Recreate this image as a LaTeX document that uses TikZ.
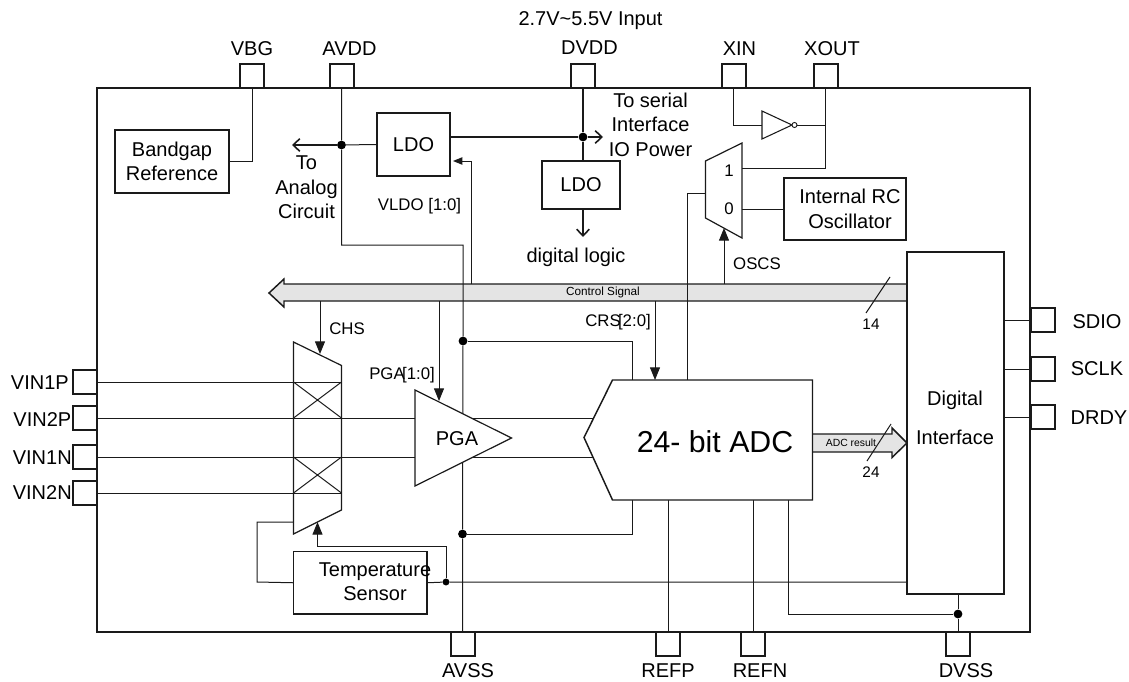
\documentclass[tikz,border=0pt]{standalone}
\usepackage{fontspec}
\setmainfont{Liberation Sans}
\usetikzlibrary{arrows.meta}
\definecolor{busgray}{HTML}{E4E4E4}
\definecolor{ink}{HTML}{1A1A1A}
\newcommand{\fsA}{\fontsize{15}{18.4}\selectfont}
\newcommand{\fsB}{\fontsize{12.6}{15}\selectfont}
\newcommand{\fsC}{\fontsize{11.5}{14}\selectfont}
\tikzset{
  wire/.style={draw=ink,line width=.75pt},
  heavy/.style={draw=ink,line width=1.5pt},
  wh/.style 2 args={minimum width=#1*.75pt,minimum height=#2*.75pt},
  pinbox/.style={draw=ink,line width=1.5pt,wh={24}{24},inner sep=0pt},
  blockbox/.style={draw=ink,line width=.9pt,fill=white,inner sep=0pt,align=center,font=\fsA},
  dot/.style={circle,fill=black,inner sep=0pt,minimum size=6.6pt},
  lab/.style={inner sep=0pt,font=\fsA,align=center},
  labs/.style={inner sep=0pt,font=\fsB,align=center},
  labn/.style={inner sep=0pt,font=\fsC},
  barb/.style={-{Straight Barb[length=5pt,width=9.5pt,line width=1.2pt]}},
  solidtip/.style={-{Triangle[length=9.5pt,width=7.5pt]}},
  smalltip/.style={-{Triangle[length=7pt,width=5.5pt]}},
}
\begin{document}
\begin{tikzpicture}[x=.75pt,y=-.75pt]
\useasboundingbox (0,0) rectangle (1129,682);
% chip outline
\node[draw=ink,line width=1.5pt,inner sep=0pt,wh={933}{544}] (chip) at (563.5,360) {};
% pins
\node[pinbox] (pVBG)  at (252,76) {};
\node[pinbox] (pAVDD) at (341.5,76) {};
\node[pinbox] (pDVDD) at (583,76) {};
\node[pinbox] (pXIN)  at (733.5,76) {};
\node[pinbox] (pXOUT) at (825.5,76) {};
\node[pinbox] (pSDIO) at (1042.5,320) {};
\node[pinbox] (pSCLK) at (1042.5,369) {};
\node[pinbox] (pDRDY) at (1042.5,417) {};
\node[pinbox] (pV1P) at (85,382) {};
\node[pinbox] (pV2P) at (85,418) {};
\node[pinbox] (pV1N) at (85,457) {};
\node[pinbox] (pV2N) at (85,493) {};
\node[pinbox] (pAVSS) at (462.5,644) {};
\node[pinbox] (pREFP) at (668,644) {};
\node[pinbox] (pREFN) at (753,644) {};
\node[pinbox] (pDVSS) at (958,644) {};
% pin labels
\node[lab] (tVBG)  at (252,49) {VBG};
\node[lab] (tAVDD) at (349.5,49) {AVDD};
\node[lab] (tIn)   at (590.5,21) {2.7V\textasciitilde 5.5V Input};
\node[lab] (tDVDD) at (589.5,48) {DVDD};
\node[lab] (tXIN)  at (739.5,49) {XIN};
\node[lab] (tXOUT) at (832,49) {XOUT};
\node[lab] (tSDIO) at (1097,322) {SDIO};
\node[lab] (tSCLK) at (1097,369) {SCLK};
\node[lab] (tDRDY) at (1099,418) {DRDY};
\node[lab,anchor=east] (tV1P) at (69,383) {VIN1P};
\node[lab,anchor=east] (tV2P) at (71.5,420) {VIN2P};
\node[lab,anchor=east] (tV1N) at (72,458) {VIN1N};
\node[lab,anchor=east] (tV2N) at (72,493) {VIN2N};
\node[lab] (tAVSS) at (468,671) {AVSS};
\node[lab] (tREFP) at (668,671) {REFP};
\node[lab] (tREFN) at (760,671) {REFN};
\node[lab] (tDVSS) at (966,671) {DVSS};
% named points
\node[dot] (dA) at (341.5,145) {};
\node[dot] (dD) at (583,137) {};
\node[dot] (dT) at (463,341) {};
\node[dot] (dB) at (462.5,534) {};
\node[dot,minimum size=5.2pt] (dS) at (446,582) {};
\node[dot] (dV) at (958,614) {};
\coordinate (aL) at (292,145);
\coordinate (aR) at (603,137);
\coordinate (aD) at (583,237);
\coordinate (busVL) at (471,284);
\coordinate (tipVL) at (453,161);
\coordinate (cnrA) at (341.5,245);
\coordinate (cnrB) at (463,245);
\coordinate (busOS) at (724,284);
\coordinate (tipOS) at (724,228);
\coordinate (busCH) at (320,301);
\coordinate (tipCH) at (320,354);
\coordinate (busPG) at (439,301);
\coordinate (tipPG) at (439,401);
\coordinate (busCR) at (655,301);
\coordinate (tipCR) at (655,380);
\coordinate (adcT1) at (632.5,380);
\coordinate (adcB1) at (632.5,500);
\coordinate (adcT2) at (687,380);
\coordinate (adcBR) at (788,500);
\coordinate (adcBP) at (668,500);
\coordinate (adcBN) at (753,500);
\coordinate (muxI) at (705.5,193);
\coordinate (mux1) at (742,168);
\coordinate (mux0) at (742,209);
\coordinate (invI) at (762,125);
\coordinate (invO) at (797,125);
\coordinate (sel) at (317.5,522);
\coordinate (selC) at (317.5,546.5);
\coordinate (fbk) at (293.5,522);
\coordinate (fbkC) at (257,582);
\coordinate (ifL) at (907,582);
\coordinate (mxR) at (341.5,0);
\coordinate (adcL1) at (600,418);
\coordinate (adcL2) at (600,457);
% blocks
\node[blockbox,wh={114}{63}] (bg) at (172,161.5) {Bandgap\\Reference};
\node[blockbox,wh={73}{63}] (ldoA) at (413.5,144.5) {LDO};
\node[blockbox,wh={78}{48}] (ldoB) at (581,185) {LDO};
\node[blockbox,wh={122}{62}] (rc) at (845,209) {};
\node[lab] (rcT) at (850,209) {Internal RC\\Oscillator\hspace{6pt}};
% control bus
\path[draw=ink,line width=1.1pt,fill=busgray] (907,284) -- (284,284) -- (284,279) -- (269,293) -- (284,307) -- (284,301) -- (907,301);
\node[inner sep=0pt,font=\fontsize{8.8}{10}\selectfont] (busT) at (603,292.5) {Control Signal};
% adc result bus
\path[draw=ink,line width=1.1pt,fill=busgray] (813,434) -- (892,434) -- (892,428) -- (907,443) -- (892,457.5) -- (892,452) -- (813,452);
\node[inner sep=0pt,font=\fontsize{7.8}{9}\selectfont] (adcT) at (851,443) {ADC result};
% digital interface and temperature
\node[blockbox,wh={97}{342}] (dif) at (955.5,423) {};
\node[blockbox,wh={133.5}{62.5}] (temp) at (360.25,582.75) {};
% wires
\draw[wire] (pVBG.south) |- (bg.east);
\draw[wire] (pAVDD.south) -- (dA) -- (cnrA) -- (cnrB) -- (dT) -- (dB) -- (pAVSS.north);
\draw[wire] (dA) -- (ldoA.west);
\draw[heavy,barb] (dA) -- (aL);
\draw[heavy,barb] (ldoA.east |- dD) -- (dD) -- (aR);
\draw[heavy] (pDVDD.south) -- (dD) -- (dD |- ldoB.north);
\draw[wire,line width=1.1pt,barb] (dD |- ldoB.south) -- (aD);
\draw[wire,smalltip] (busVL) |- (tipVL);
\draw[wire] (pXIN.south) |- (invI);
\draw[wire] (pXOUT.south) |- (invO);
\draw[wire] (pXOUT.south) |- (mux1);
\draw[wire] (mux0) -- (rc.west |- mux0);
\draw[wire] (muxI) -| (adcT2);
\draw[wire,solidtip] (busOS) -- (tipOS);
\draw[wire,solidtip] (busCH) -- (tipCH);
\draw[wire,solidtip] (busCR) -- (tipCR);
\draw[wire] (dT) -| (adcT1);
\draw[wire] (dB) -| (adcB1);
\draw[wire] (pV1P.east) -- (pV1P.east -| mxR);
\draw[wire] (pV2P.east) -- (adcL1);
\draw[wire] (pV1N.east) -- (adcL2);
\draw[wire] (pV2N.east) -- (pV2N.east -| mxR);
\draw[wire] (pSDIO.west) -- (dif.east |- pSDIO.west);
\draw[wire] (pSCLK.west) -- (dif.east |- pSCLK.west);
\draw[wire] (pDRDY.west) -- (dif.east |- pDRDY.west);
\draw[wire] (dif.south -| dV) -- (dV) -- (pDVSS.north);
\draw[wire] (adcBR) |- (dV);
\draw[wire] (adcBP) -- (pREFP.north);
\draw[wire] (adcBN) -- (pREFN.north);
\draw[wire] (temp.east) -- (dS) -- (ifL);
\draw[wire,solidtip] (dS) |- (selC) -- (sel);
\draw[wire] (fbk) -| (fbkC) -- (temp.west);
% channel mux
\path[draw=ink,line width=.9pt] (293.5,342) -- (341.5,365.5) -- (341.5,510) -- (293.5,534) -- cycle;
\draw[wire] (293.5,382) -- (341.5,418) (341.5,382) -- (293.5,418);
\draw[wire] (293.5,457) -- (341.5,493) (341.5,457) -- (293.5,493);
% PGA
\path[draw=ink,line width=.9pt,fill=white] (415,390) -- (511.5,438) -- (415,486) -- cycle;
\draw[wire,solidtip] (busPG) -- (tipPG);
\node[inner sep=0pt,font=\fsA] (pgaT) at (457,439) {PGA};
% ADC
\path[draw=ink,line width=1.1pt,fill=white] (612.5,380) -- (812.5,380) -- (812.5,500) -- (612.5,500) -- (584,437.5) -- cycle;
\node[inner sep=0pt,font=\fontsize{22.7}{28}\selectfont] (adcN) at (715,442) {24- bit ADC};
% clock mux
\path[draw=ink,line width=.9pt] (705.5,161) -- (742,143) -- (742,238) -- (705.5,218) -- cycle;
\node[labs] (m1) at (729,171) {1};
\node[labs] (m0) at (729,209) {0};
% inverter
\path[draw=ink,line width=.8pt,fill=white] (762,111) -- (792,125) -- (762,139) -- cycle;
\node[circle,draw=ink,line width=.7pt,fill=white,inner sep=0pt,minimum size=3.8pt] (bub) at (794.5,125) {};
% wire labels
\node[lab] (tA) at (306.5,187.5) {To\\Analog\\Circuit};
\node[lab] (tS) at (650.5,124.5) {To serial\\Interface\\IO Power};
\node[lab] (tL) at (576,257) {digital logic};
\node[labs] (tVL) at (419.5,206) {VLDO [1:0]};
\node[labs] (tOS) at (757,264) {OSCS};
\node[labs] (tCH) at (347,329) {CHS};
\node[labs] (tPG) at (402,375) {PGA\hspace{-2pt}[1:0]};
\node[labs] (tCR) at (618,322.5) {CRS\hspace{-2pt}[2:0]};
\node[lab,font=\fontsize{15}{29.25}\selectfont] (tDI) at (955,417.5) {Digital\\Interface};
\node[lab] (tTe) at (375,581.5) {Temperature\\Sensor\hspace{10.5pt}};
% bus width marks
\coordinate (s1a) at (890,277); \coordinate (s1b) at (866,313);
\coordinate (s2a) at (891,424); \coordinate (s2b) at (867,461);
\draw[wire] (s1a) -- (s1b);
\draw[wire] (s2a) -- (s2b);
\node[labn] (t14) at (871,324) {14};
\node[labn] (t24) at (871,472.5) {24};
\end{tikzpicture}
\end{document}
